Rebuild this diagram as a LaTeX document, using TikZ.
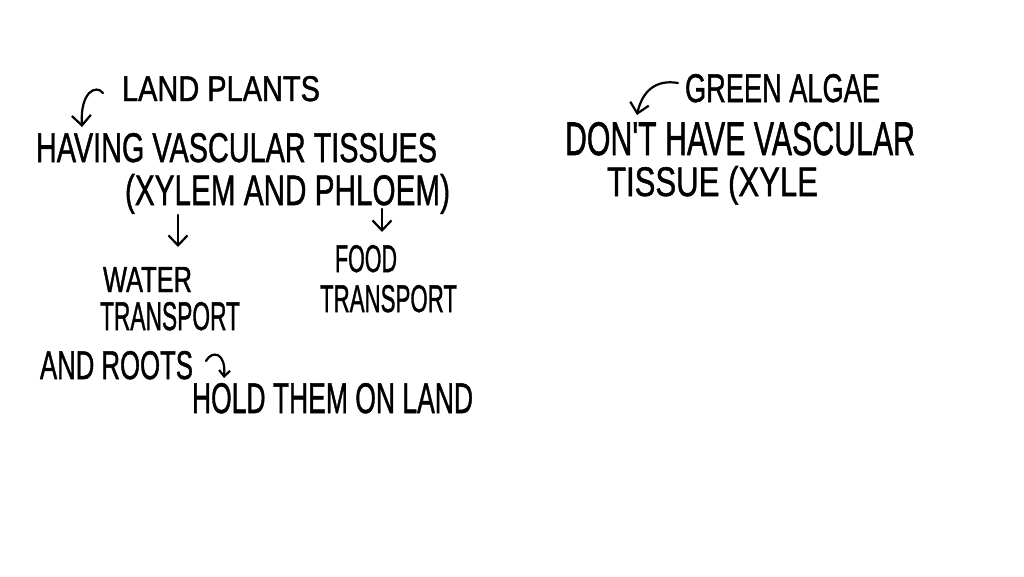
\documentclass[tikz,border=0pt]{standalone}
\usepackage{fontspec}
\newfontfamily\handfont{Liberation Sans}[FakeBold=1.3]
\usetikzlibrary{arrows.meta}
\newcommand{\hw}[3]{\resizebox{#1pt}{#2pt}{\handfont #3}}
\tikzset{
  hand/.style={inner sep=0pt, outer sep=0pt, anchor=base west},
  arr/.style={line width=2.2pt, line cap=round, line join=round, -{Straight Barb[length=10pt,width=19pt,line width=2.2pt]}},
  smallarr/.style={arr, -{Straight Barb[length=6pt,width=11pt,line width=2.2pt]}}
}
\begin{document}
\begin{tikzpicture}[x=1pt,y=-1pt]
\useasboundingbox[fill=white] (0,0) rectangle (1024,576);
% left group
\node[hand] (lp) at (122,101) {\hw{198}{25}{LAND PLANTS}};
\node[hand] (hv) at (36,162) {\hw{401}{29}{HAVING VASCULAR TISSUES}};
\node[hand] (xp) at (125,205) {\hw{325}{31}{(XYLEM AND PHLOEM)}};
\node[hand] (wa) at (103,292) {\hw{89}{25}{WATER}};
\node[hand] (wt) at (100,330) {\hw{140}{28}{TRANSPORT}};
\node[hand] (fo) at (335,272) {\hw{62}{27}{FOOD}};
\node[hand] (ft) at (320,312) {\hw{137}{27}{TRANSPORT}};
\node[hand] (ro) at (40,379) {\hw{153}{28}{AND ROOTS}};
\node[hand] (ho) at (192,413) {\hw{281}{30}{HOLD THEM ON LAND}};
% right group
\node[hand] (ga) at (685,102) {\hw{195}{28}{GREEN ALGAE}};
\node[hand] (dh) at (565,155) {\hw{350}{33}{DON'T HAVE VASCULAR}};
\node[hand] (ts) at (607,196) {\hw{211}{30}{TISSUE (XYLE}};
% connectors
\coordinate (lpS) at (103,93);
\coordinate (hvN) at (82,127);
\draw[arr] (lpS) .. controls (96,84) and (80,92) .. (hvN);
\coordinate (xpA) at (178,215);
\coordinate (waN) at (178,247);
\draw[arr] (xpA) -- (waN);
\coordinate (xpB) at (382,209);
\coordinate (foN) at (382,232);
\draw[arr] (xpB) -- (foN);
\coordinate (roE) at (206,361);
\coordinate (hoN) at (224,378);
\draw[smallarr] (roE) .. controls (212,350) and (226,352) .. (hoN);
\coordinate (gaW) at (678,83);
\coordinate (dhN) at (637,115);
\draw[arr] (gaW) .. controls (655,79) and (642,92) .. (dhN);
\end{tikzpicture}
\end{document}
